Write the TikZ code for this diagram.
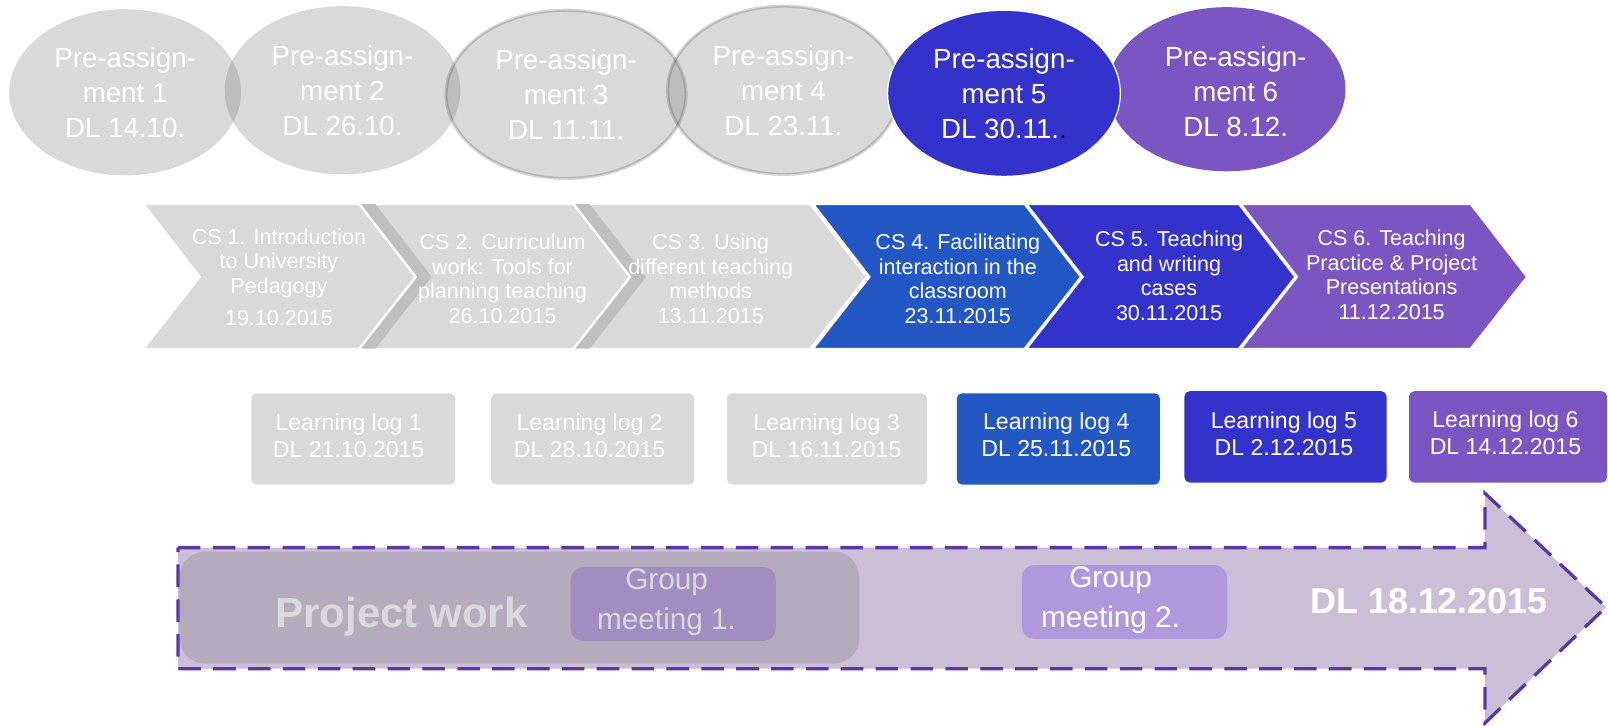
\documentclass[tikz,border=0pt]{standalone}
\usepackage{fontspec}
\setmainfont{Liberation Sans}
\usetikzlibrary{shapes.geometric}
\definecolor{lgray}{HTML}{D9D9D9}
\definecolor{sgray}{HTML}{BFBFBF}
\definecolor{ovl}{HTML}{6A6A6A}
\definecolor{cblue}{HTML}{2358C4}
\definecolor{cindigo}{HTML}{3333CC}
\definecolor{cpurple}{HTML}{7B55C2}
\definecolor{afill}{HTML}{CBBFD8}
\definecolor{aline}{HTML}{5B37A1}
\definecolor{pwfill}{HTML}{B4ABBC}
\definecolor{gmone}{HTML}{A08EC0}
\definecolor{gmtwo}{HTML}{AF99DC}
\newcommand{\chevshape}[2]{(#1,199) -- (#2,199) -- (#2+55,270) -- (#2,340) -- (#1,340) -- (#1+55,270) -- cycle}
\newcommand{\chevstrip}[1]{(#1,199) -- (#1+14,199) -- (#1+69,270) -- (#1+14,340) -- (#1,340) -- (#1+55,270) -- cycle}
\begin{document}
\begin{tikzpicture}[x=1pt,y=-1pt,
  patext/.style={inner sep=0pt, align=center, text=white,
    font=\fontsize{27}{34}\selectfont},
  pa/.style={ellipse, patext},
  pagray/.style={pa, fill=ovl, fill opacity=0.255, text opacity=1},
  paring/.style={draw=black, draw opacity=0.16, line width=3pt},
  cstext/.style={align=center, text=white, inner sep=0pt,
    font=\fontsize{21}{24}\selectfont},
  csbody/.style={draw=white, line width=1.8pt},
  llbox/.style={rectangle, rounded corners=5pt, align=center, text=white,
    inner sep=0pt, minimum height=89pt, font=\fontsize{22.5}{26}\selectfont},
  gmbox/.style={rectangle, rounded corners=12pt, minimum width=200pt,
    minimum height=72pt, inner sep=0pt},
  gmtext/.style={align=center, inner sep=0pt, font=\fontsize{29}{39}\selectfont},
  dashline/.style={draw=aline, line width=3.2pt, dash pattern=on 22pt off 12pt}]
\useasboundingbox (0,0) rectangle (1568,707);

% --- pre-assignments ---
\node[pagray, minimum width=226pt, minimum height=162pt] (e1) at (122,90)
  {Pre-assign-\\ment 1\\DL 14.10.};
\node[pagray, minimum width=230pt, minimum height=164pt] (e2) at (334,88)
  {Pre-assign-\\ment 2\\DL 26.10.};
\node[pagray, paring, minimum width=234pt, minimum height=164pt] (e3) at (552,92)
  {Pre-assign-\\ment 3\\DL 11.11.};
\node[pagray, paring, minimum width=226pt, minimum height=164pt] (e4) at (764,88)
  {Pre-assign-\\ment 4\\DL 23.11.};
\node[pa, fill=cpurple, minimum width=232pt, minimum height=160pt] (e6) at (1196,87) {};
\node[patext] (e6t) at (1205,89) {Pre-assign-\\ment 6\\DL 8.12.};
\node[pa, fill=cindigo, draw=white, line width=1.2pt, minimum width=227pt, minimum height=162pt] (e5) at (979,91)
  {Pre-assign-\\ment 5\\DL 30.11.{\color{black}.}};

% --- course sessions (chevrons) ---
\path[fill=lgray, csbody] \chevshape{140}{350};
\path[fill=lgray, csbody] \chevshape{352}{559};
\path[fill=sgray] \chevstrip{352};
\path[fill=lgray, csbody] \chevshape{561}{790};
\path[fill=sgray] \chevstrip{561};
\path[fill=cblue, csbody] \chevshape{793}{999};
\path[fill=cindigo, csbody] \chevshape{1001}{1208};
\path[fill=cpurple, csbody] \chevshape{1210}{1434};

\node[cstext] (cs1) at (272,270) {CS 1. Introduction\\to University\\Pedagogy\\[7pt]19.10.2015};
\node[cstext] (cs2) at (490,272) {CS 2. Curriculum\\work: Tools for\\planning teaching\\26.10.2015};
\node[cstext] (cs3) at (693,272) {CS 3. Using\\different teaching\\methods\\13.11.2015};
\node[cstext] (cs4) at (934,272) {CS 4. Facilitating\\interaction in the\\classroom\\23.11.2015};
\node[cstext] (cs5) at (1140,269) {CS 5. Teaching\\and writing\\cases\\30.11.2015};
\node[cstext] (cs6) at (1357,268) {CS 6. Teaching\\Practice \& Project\\Presentations\\11.12.2015};

% --- learning logs ---
\node[llbox, fill=lgray, minimum width=199pt] (ll1) at (344.5,428) {};
\node[cstext, font=\fontsize{22.5}{26}\selectfont] (ll1t) at (340,425) {Learning log 1\\DL 21.10.2015};
\node[llbox, fill=lgray, minimum width=198pt] (ll2) at (578,428) {};
\node[cstext, font=\fontsize{22.5}{26}\selectfont] (ll2t) at (575,425) {Learning log 2\\DL 28.10.2015};
\node[llbox, fill=lgray, minimum width=195pt] (ll3) at (806.5,428) {};
\node[cstext, font=\fontsize{22.5}{26}\selectfont] (ll3t) at (806,425) {Learning log 3\\DL 16.11.2015};
\node[llbox, fill=cblue, minimum width=198pt] (ll4) at (1032,428) {};
\node[cstext, font=\fontsize{22.5}{26}\selectfont] (ll4t) at (1030,424) {Learning log 4\\DL 25.11.2015};
\node[llbox, fill=cindigo, minimum width=197pt] (ll5) at (1253.5,426) {};
\node[cstext, font=\fontsize{22.5}{26}\selectfont] (ll5t) at (1252,423) {Learning log 5\\DL 2.12.2015};
\node[llbox, fill=cpurple, minimum width=193pt] (ll6) at (1470.5,426) {};
\node[cstext, font=\fontsize{22.5}{26}\selectfont] (ll6t) at (1468,422) {Learning log 6\\DL 14.12.2015};

% --- project work arrow ---
\path[fill=afill] (173.5,534) -- (1448,534) -- (1448,481) -- (1566,592)
  -- (1448,705) -- (1448,652) -- (173.5,652) -- cycle;
\node[rectangle, rounded corners=25pt, fill=pwfill, minimum width=663pt,
  minimum height=109pt, inner sep=0pt] (pwbox) at (506.5,592.5) {};
\node[anchor=base, text=lgray, inner sep=0pt,
  font=\fontsize{41}{45}\selectfont\bfseries] (pw) at (391.5,612) {Project work};
\node[gmbox, fill=gmone] (gm1box) at (656.5,589) {};
\node[gmtext, text=lgray] (gm1) at (650,587) {Group\\meeting 1.};
\node[gmbox, fill=gmtwo] (gm2box) at (1096.5,587) {};
\node[gmtext, text=white] (gm2) at (1083,585) {Group\\meeting 2.};
\node[anchor=base, text=white, inner sep=0pt,
  font=\fontsize{35}{40}\selectfont\bfseries] (dl) at (1393.5,598) {DL 18.12.2015};
\path[dashline] (173.5,534) -- (1448,534) -- (1448,481) -- (1566,592)
  -- (1448,705) -- (1448,652) -- (173.5,652) -- cycle;
\end{tikzpicture}
\end{document}
